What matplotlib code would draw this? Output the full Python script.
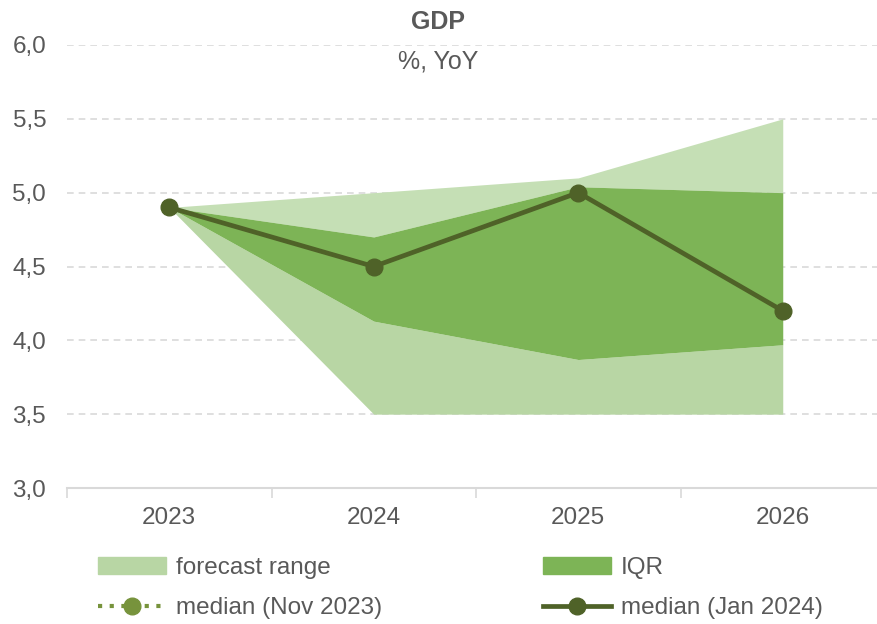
import matplotlib
matplotlib.use('Agg')
import matplotlib.pyplot as plt
from matplotlib.lines import Line2D
from matplotlib.patches import Patch

# Data
years = ['2023', '2024', '2025', '2026']
range_low = [4.9, 3.5, 3.5, 3.5]
range_high = [4.9, 5.0, 5.1, 5.5]
iqr_low = [4.9, 4.13, 3.87, 3.97]
iqr_high = [4.9, 4.70, 5.04, 5.0]
median_jan = [4.9, 4.5, 5.0, 4.2]
yticks = [3.0, 3.5, 4.0, 4.5, 5.0, 5.5, 6.0]

plt.rcParams['font.family'] = ['Liberation Sans', 'DejaVu Sans']
txt = '#595959'
light_up = '#c5dfb5'
light_low = '#b8d6a4'
iqr_col = '#7db456'
med_col = '#4f6228'
nov_col = '#77933c'

fig = plt.figure(figsize=(8.77, 6.24), dpi=100)
ax = fig.add_axes([67/877, 1-488/624, (885-67)/877, (488-45)/624])

x = list(range(len(years)))
ax.fill_between(x, range_low, iqr_low, color=light_low, linewidth=0, zorder=2)
ax.fill_between(x, iqr_high, range_high, color=light_up, linewidth=0, zorder=2)
ax.fill_between(x, iqr_low, iqr_high, color=iqr_col, linewidth=0, zorder=3)
ax.plot(x, median_jan, color=med_col, linewidth=3.4, marker='o', markersize=12, zorder=4)

ax.set_xlim(-0.5, 3.5)
ax.set_ylim(3.0, 6.0)
ax.set_yticks(yticks)
ax.set_yticklabels([f'{v:.1f}'.replace('.', ',') for v in yticks], color=txt, fontsize=17.5)
ax.set_xticks(x)
ax.set_xticklabels(years, color=txt, fontsize=17.5)
ax.set_xticks([-0.5, 0.5, 1.5, 2.5, 3.5], minor=True)
ax.tick_params(axis='x', which='major', length=0, pad=14)
ax.tick_params(axis='x', which='minor', length=7, color='#d9d9d9', width=1.2)
ax.tick_params(axis='y', length=0, pad=15)
for g in yticks[1:]:
    ax.axhline(g, color='#d9d9d9', linestyle=(0, (4, 3)), linewidth=1.2, zorder=1)
for s in ['top', 'right', 'left']:
    ax.spines[s].set_visible(False)
ax.spines['bottom'].set_color('#d9d9d9')
ax.spines['bottom'].set_linewidth(1.5)

fig.text(0.5, 1-22/624, 'GDP', ha='center', va='center', fontsize=18, fontweight='bold', color=txt)
fig.text(0.5, 1-62/624, '%, YoY', ha='center', va='center', fontsize=18, color=txt)

col1 = [
    Patch(color=light_low, label='forecast range'),
    Line2D([], [], color=nov_col, linestyle=(0, (1, 1.8)), linewidth=3, marker='o', markersize=12, label='median (Nov 2023)'),
]
col2 = [
    Patch(color=iqr_col, label='IQR'),
    Line2D([], [], color=med_col, linewidth=3.4, marker='o', markersize=12, label='median (Jan 2024)'),
]
leg_kw = dict(loc='center left', frameon=False, fontsize=17.5, labelcolor=txt, handlelength=2.8,
              handletextpad=0.4, labelspacing=0.75, borderpad=0, borderaxespad=0)
fig.legend(handles=col1, bbox_to_anchor=(98/877, 1-588/624), **leg_kw)
fig.legend(handles=col2, bbox_to_anchor=(543/877, 1-588/624), **leg_kw)

plt.savefig('out.png', dpi=100)
